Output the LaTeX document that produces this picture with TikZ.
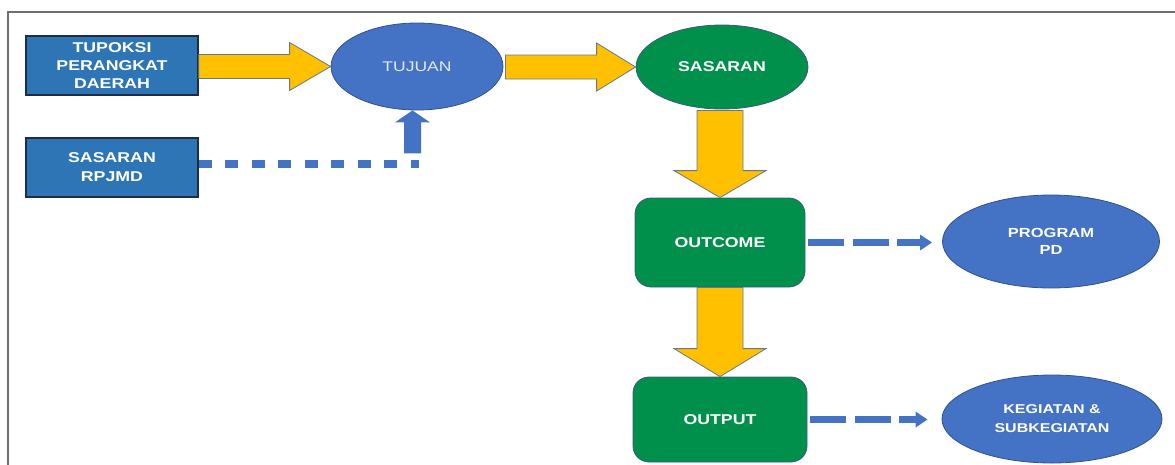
\documentclass[tikz,border=0pt]{standalone}
\usepackage{fontspec}
\newfontfamily\af[FakeStretch=1.25]{Liberation Sans}
\usetikzlibrary{shapes.geometric,calc,arrows.meta}
\definecolor{boxblue}{HTML}{2E75B6}
\definecolor{boxline}{HTML}{1E2C45}
\definecolor{ellblue}{HTML}{4472C4}
\definecolor{ellline}{HTML}{2F528F}
\definecolor{ggreen}{HTML}{00904C}
\definecolor{gline}{HTML}{3A5A80}
\definecolor{yfill}{HTML}{FFC000}
\definecolor{yline}{HTML}{667892}
\definecolor{framegray}{HTML}{6E6E6E}
\newcommand\harrowY[5]{\filldraw[yarrow] ($(#1)+(0,-#4)$) -- ($(#2)+(-#3,-#4)$) -- ($(#2)+(-#3,-#5)$) -- (#2) -- ($(#2)+(-#3,#5)$) -- ($(#2)+(-#3,#4)$) -- ($(#1)+(0,#4)$) -- cycle;}
\newcommand\varrowY[5]{\filldraw[yarrow] ($(#1)+(-#4,0)$) -- ($(#2)+(-#4,-#3)$) -- ($(#2)+(-#5,-#3)$) -- (#2) -- ($(#2)+(#5,-#3)$) -- ($(#2)+(#4,-#3)$) -- ($(#1)+(#4,0)$) -- cycle;}
\tikzset{
  txt/.style={text=white, font=\af\bfseries\fontsize{14.2}{18}\selectfont, align=center, inner sep=0pt},
  bluebox/.style={txt, rectangle, fill=boxblue, draw=boxline, line width=1.5pt},
  blueell/.style={txt, ellipse, fill=ellblue, draw=ellline, line width=0.8pt},
  greenell/.style={txt, ellipse, fill=ggreen, draw=gline, line width=0.8pt},
  greenbox/.style={txt, rectangle, rounded corners=16pt, fill=ggreen, draw=gline, line width=0.8pt},
  yarrow/.style={fill=yfill, draw=yline, line width=0.8pt, line join=miter},
  dotline/.style={draw=ellblue, line width=8pt, dash pattern=on 13pt off 13.5pt},
  dasharrow/.style={draw=ellblue, line width=7pt, dash pattern=on 36pt off 8.5pt, -{Triangle[length=12pt,width=15pt]}},
}
\begin{document}
\begin{tikzpicture}[x=1pt,y=-1pt]
\useasboundingbox (0,0) rectangle (1175,464);
\draw[framegray, line width=2pt] (8,470) -- (8,12) -- (1180,12);

\node[bluebox, minimum width=172pt, minimum height=59pt] (tup) at (112,65.5) {TUPOKSI\\PERANGKAT\\DAERAH};
\node[bluebox, minimum width=172pt, minimum height=59pt, font=\af\bfseries\fontsize{14.2}{19}\selectfont] (rpj) at (112,167.5) {SASARAN\\RPJMD};
\node[blueell, minimum width=172pt, minimum height=87pt, font=\af\fontsize{14}{18}\selectfont, text=white!85!ellblue] (tuj) at (417,66.5) {TUJUAN};
\node[greenell, minimum width=172pt, minimum height=84pt] (sas) at (722,67) {SASARAN};
\node[greenbox, minimum width=170pt, minimum height=89pt] (oc) at (720,242.5) {OUTCOME};
\node[greenbox, minimum width=174pt, minimum height=85pt] (op) at (720,419.5) {OUTPUT};
\node[blueell, minimum width=217pt, minimum height=93pt, font=\af\bfseries\fontsize{13.2}{17}\selectfont] (prog) at (1051,241.5) {PROGRAM\\PD};
\node[blueell, minimum width=220pt, minimum height=88pt, font=\af\bfseries\fontsize{12.8}{19}\selectfont] (keg) at (1052,419) {KEGIATAN \&\\SUBKEGIATAN};

% yellow block arrows
\coordinate (s1) at (tup.east |- tuj.west);
\harrowY{s1}{tuj.west}{41}{12}{24}
\coordinate (s2) at ($(tuj.east |- sas.west)+(2,0)$);
\harrowY{s2}{sas.west}{39}{12}{24}
\coordinate (s3) at ($(oc.north |- sas.south)+(0,1)$);
\varrowY{s3}{oc.north}{27}{23}{46}
\coordinate (s4) at (oc.south);
\varrowY{s4}{op.north}{28}{23}{46}

% dotted connector and blue up arrow
\coordinate (dotend) at (419,164);
\draw[dotline] ($(rpj.east)+(0,-3.5)$) -- (dotend);
\coordinate (u1) at ($(tuj.south)+(-4.5,0)$);
\fill[ellblue] ($(u1)+(-8.5,43)$) -- ($(u1)+(-8.5,12)$) -- ($(u1)+(-17.5,12)$) -- (u1) -- ($(u1)+(17.5,12)$) -- ($(u1)+(8.5,12)$) -- ($(u1)+(8.5,43)$) -- cycle;

% dashed arrows
\draw[dasharrow, shorten <=3pt, shorten >=10pt] (oc.east) -- (oc.east -| prog.west);
\draw[dasharrow, shorten <=3pt, shorten >=14pt] (op.east) -- (op.east -| keg.west);
\end{tikzpicture}
\end{document}
